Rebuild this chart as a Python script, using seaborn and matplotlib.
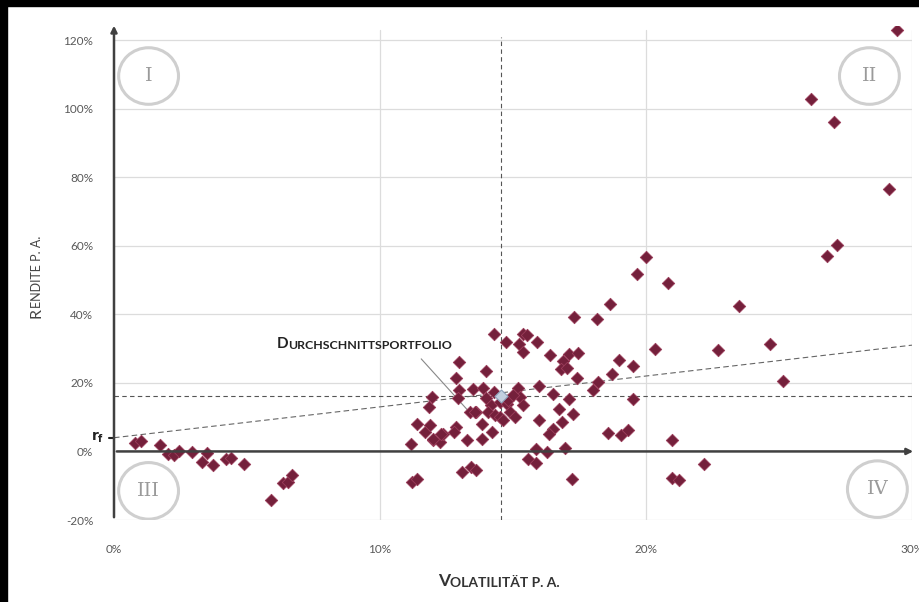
import numpy as np
import pandas as pd
import matplotlib
matplotlib.use('Agg')
import matplotlib.pyplot as plt
import seaborn as sns
from matplotlib.patches import Ellipse, Rectangle

# volatility p.a. (%) and return p.a. (%) of the single portfolios
vola = [0.8, 1.0, 1.73, 2.04, 2.26, 2.46, 2.92, 3.48, 3.32, 3.73, 4.2, 4.38, 4.89, 5.89, 6.34, 6.55, 6.68,
        11.17, 11.4, 11.69, 11.88, 11.98, 12.26, 12.38, 11.94, 11.84, 12.98, 12.86, 12.98, 12.94, 12.86, 12.8,
        13.28, 13.38, 13.6, 13.5, 13.86, 13.98, 11.19, 11.4, 13.07, 13.44, 13.6, 13.82, 13.82, 14.2, 12.0, 12.3,
        14.29, 14.74, 15.24, 15.39, 15.54, 15.39, 15.89, 16.39, 14.29, 15.2, 15.99, 16.49, 15.26, 15.39, 14.16,
        14.51, 14.76, 14.07, 14.32, 14.51, 14.64, 14.89, 15.08, 13.57, 15.99, 15.86, 16.29, 15.58, 15.86, 14.0,
        14.8, 15.0,
        17.12, 17.46, 16.89, 16.79, 17.02, 17.39, 17.12, 16.74, 17.24, 16.86, 16.52, 16.37, 16.95, 17.2, 17.29,
        18.65, 18.17, 19.99, 19.67, 20.84, 20.34, 19.0, 19.52, 18.71, 18.21, 18.02, 19.52, 18.58, 19.05, 19.33,
        20.96, 22.18, 20.96, 21.25, 22.72, 24.66, 25.14, 23.5, 26.2, 27.08, 29.14, 27.2, 26.79, 29.42]
rendite = [2.5, 3.0, 2.0, -0.7, -1.0, 0.1, -0.2, -0.5, -3.1, -3.9, -2.1, -1.9, -3.6, -14.3, -9.1, -8.8, -7.0,
           2.2, 8.1, 5.6, 7.6, 3.2, 2.7, 5.0, 15.9, 13.1, 26.1, 21.4, 17.8, 15.7, 7.1, 5.6,
           3.4, 11.5, 11.5, 18.3, 18.5, 23.6, -9.0, -8.0, -6.0, -4.4, -5.3, 8.1, 3.7, 5.6, 3.7, 5.2,
           34.2, 31.9, 31.4, 34.2, 33.9, 29.0, 31.9, 28.2, 17.3, 18.5, 19.1, 16.8, 15.9, 13.6, 13.4,
           14.4, 13.9, 11.5, 10.5, 10.0, 9.1, 11.5, 10.0, 11.5, 9.2, 0.8, -0.2, -2.1, -3.4, 15.5,
           15.0, 16.5,
           28.5, 28.7, 26.3, 24.1, 24.4, 21.5, 15.4, 12.5, 11.0, 8.6, 6.6, 5.2, 1.1, -8.0, 39.2,
           42.9, 38.7, 56.6, 51.9, 49.0, 30.0, 26.6, 24.8, 22.5, 20.2, 17.8, 15.4, 5.4, 4.7, 6.3,
           3.4, -3.8, -7.7, -8.3, 29.5, 31.4, 20.5, 42.3, 102.9, 96.2, 76.6, 60.3, 56.9, 122.9]

avg_vola = 14.55
avg_rendite = 16.3
rf = 4.0
cml_end = 31.0  # return of the line at 30% volatility

y_ticks = [-20, 0, 20, 40, 60, 80, 100, 120]
x_ticks = [0, 10, 20, 30]
quadrants = [('I', 1.3, 109.5), ('II', 28.4, 109.5), ('III', 1.3, -11.5), ('IV', 28.7, -11.0)]

df = pd.DataFrame({'vola': vola, 'rendite': rendite})

sns.set_style('white')
plt.rcParams['font.family'] = ['Lato', 'DejaVu Sans']

fig = plt.figure(figsize=(9.19, 6.02), dpi=100)
ax = fig.add_axes([0.12405, 0.1362, 0.8683, 0.8201])

grid_c = '#dcdcdc'
for yv in y_ticks:
    if yv != 0:
        ax.axhline(yv, color=grid_c, lw=0.9, zorder=0)
for xv in x_ticks[1:]:
    ax.plot([xv, xv], [-20, 123], color=grid_c, lw=0.9, zorder=0)

# average portfolio cross lines
ax.axhline(avg_rendite, color='#555555', lw=0.8, ls=(0, (4, 3)), zorder=1)
ax.plot([avg_vola, avg_vola], [-20, 121], color='#555555', lw=0.8, ls=(0, (4, 3)), zorder=1)
# capital market line
ax.plot([0, 30], [rf, cml_end], color='#666666', lw=0.8, ls=(0, (5, 3)), zorder=1)

sns.scatterplot(data=df, x='vola', y='rendite', marker='D', s=40, color='#74203b',
                edgecolor='#9b3d5a', linewidth=0.6, ax=ax, zorder=3)
ax.scatter([avg_vola], [avg_rendite], marker='D', s=44, color='#c3d0e0', edgecolors='#8ea2bb',
           linewidths=0.8, zorder=4)

# axes with arrows
ax.annotate('', xy=(0, 125), xytext=(0, -20), xycoords='data',
            arrowprops=dict(arrowstyle='-|>', color='#404040', lw=1.8, mutation_scale=9),
            annotation_clip=False, zorder=5)
ax.annotate('', xy=(30.15, 0), xytext=(0, 0), xycoords='data',
            arrowprops=dict(arrowstyle='-|>', color='#404040', lw=1.8, mutation_scale=9),
            annotation_clip=False, zorder=5)

# quadrant circles
for lab, qx, qy in quadrants:
    ax.add_patch(Ellipse((qx, qy), 2.25, 16.5, fill=False, edgecolor='#cfcfcf', lw=2.2, zorder=2))
    ax.text(qx, qy, lab, ha='center', va='center', fontsize=14, color='#9a9a9a',
            family='DejaVu Serif', zorder=2)

ax.set_xlim(0, 30)
ax.set_ylim(-20, 124)
ax.set_xticks(x_ticks)
ax.set_xticklabels([f'{v}%' for v in x_ticks])
ax.set_yticks(y_ticks)
ax.set_yticklabels([f'{v}%' for v in y_ticks])
ax.tick_params(axis='y', length=5, width=0.9, color='#404040', pad=10, labelsize=8.5, labelcolor='#595959')
ax.tick_params(axis='x', length=0, pad=17, labelsize=8.5, labelcolor='#595959')
for sp in ax.spines.values():
    sp.set_visible(False)
ax.set_xlabel('')
ax.set_ylabel('')

# r_f marker
ax.plot([-0.2, 0], [rf, rf], color='#222222', lw=1.5, clip_on=False)
ax.text(-0.35, rf, r'$\mathbf{r_f}$', ha='right', va='center', fontsize=10, color='#222222')

# small-caps labels
xl1 = fig.text(0.477, 0.022, 'V', fontsize=12.5, color='#333333', ha='left', va='bottom', weight='bold')
ax.annotate('OLATILITÄT P. A.', xy=(1, 0), xycoords=xl1, ha='left', va='bottom', fontsize=10,
            color='#333333', weight='bold')
yl1 = fig.text(0.047, 0.472, 'R', fontsize=11.5, color='#444444', ha='right', va='bottom', rotation=90)
ax.annotate('ENDITE P. A.', xy=(1, 1), xycoords=yl1, ha='right', va='bottom', fontsize=9,
            color='#444444', rotation=90)

d1 = ax.text(6.1, 29.3, 'D', fontsize=11, color='#222222', ha='left', va='bottom', weight='bold')
ax.annotate('URCHSCHNITTSPORTFOLIO', xy=(1, 0), xycoords=d1, ha='left', va='bottom', fontsize=8.9,
            color='#222222', weight='bold')
ax.plot([11.55, 13.3], [27.0, 12.0], color='#888888', lw=0.8, zorder=2)

# black border of the scan
fig.patches.append(Rectangle((0, 1 - 6 / 602), 1, 6 / 602, transform=fig.transFigure, color='black'))
fig.patches.append(Rectangle((0, 0), 7 / 919, 1, transform=fig.transFigure, color='black'))

fig.savefig('out.png', dpi=100, facecolor='white')
